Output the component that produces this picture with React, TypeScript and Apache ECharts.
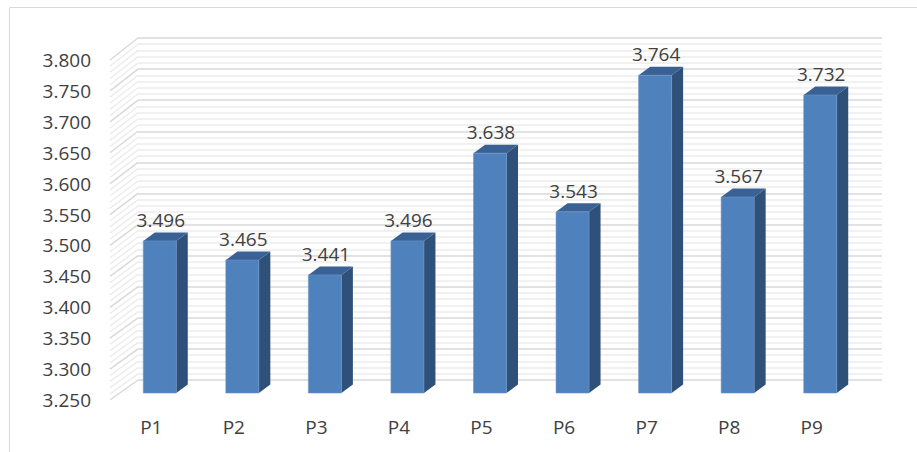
import React, { useEffect, useRef } from "react";
import * as echarts from "echarts";

const categories = ["P1", "P2", "P3", "P4", "P5", "P6", "P7", "P8", "P9"];
const values = [3.496, 3.465, 3.441, 3.496, 3.638, 3.543, 3.764, 3.567, 3.732];
const yMin = 3.25;
const yMax = 3.8;
const yStep = 0.05;
const minorSplit = 5;

const FONT = "'Open Sans', 'Liberation Sans', sans-serif";
const TEXT = "#404040";
const FS = 19;

export default function App() {
  const ref = useRef<HTMLDivElement>(null);
  useEffect(() => {
    if (!ref.current) return;
    const chart = echarts.init(ref.current, undefined, { renderer: "svg" });
    const option: any = {
      animation: false,
      backgroundColor: "#ffffff",
      graphic: [
        {
          type: "rect",
          shape: { x: 9.5, y: 7.5, width: 930, height: 470 },
          style: { fill: "none", stroke: "#D9D9D9", lineWidth: 1 },
          silent: true,
          z: 0,
        },
      ],
      grid: [
        { left: 138, top: 38, width: 744, height: 342 },
        { left: 110, top: 60, width: 743, height: 340 },
      ],
      xAxis: [
        {
          type: "category",
          gridIndex: 0,
          data: categories,
          show: false,
        },
        {
          type: "category",
          gridIndex: 1,
          data: categories,
          axisLine: { show: false },
          axisTick: { show: false },
          axisLabel: { color: TEXT, fontSize: FS, fontFamily: FONT, margin: 17 },
        },
      ],
      yAxis: [
        {
          type: "value",
          gridIndex: 0,
          min: yMin,
          max: yMax,
          interval: yStep,
          axisLine: { show: false },
          axisTick: { show: false },
          axisLabel: { show: false },
          splitLine: { show: true, lineStyle: { color: "#D9D9D9", width: 1.5 } },
          minorTick: { show: false, splitNumber: minorSplit },
          minorSplitLine: { show: true, lineStyle: { color: "#EDEDED", width: 1.5 } },
        },
        {
          type: "value",
          gridIndex: 1,
          min: yMin,
          max: yMax,
          interval: yStep,
          axisLine: { show: false },
          axisTick: { show: false },
          splitLine: { show: false },
          axisLabel: {
            color: TEXT,
            fontSize: FS,
            fontFamily: FONT,
            margin: 19,
            formatter: (v: number) => v.toFixed(3),
          },
        },
      ],
      series: [
        {
          type: "custom",
          xAxisIndex: 1,
          yAxisIndex: 1,
          silent: true,
          clip: false,
          z: 1,
          data: [[0]],
          renderItem: (params: any, api: any) => {
            const cs = params.coordSys;
            const children: any[] = [];
            const n = Math.round((yMax - yMin) / (yStep / minorSplit));
            for (let k = 0; k <= n; k++) {
              const v = yMin + (k * (yMax - yMin)) / n;
              const p = api.coord([0, v]);
              const yF = p[1];
              const yB = yF - 20 - ((v - yMin) / (yMax - yMin)) * 2;
              children.push({
                type: "line",
                shape: { x1: cs.x, y1: yF, x2: cs.x + 28, y2: yB },
                style: {
                  stroke: k % minorSplit === 0 ? "#D9D9D9" : "#EDEDED",
                  lineWidth: 1.5,
                },
              });
            }
            return { type: "group", children };
          },
        },
        {
          type: "custom",
          xAxisIndex: 1,
          yAxisIndex: 1,
          silent: true,
          clip: false,
          z: 5,
          data: values.map((v, i) => [i, v]),
          renderItem: (params: any, api: any) => {
            const i = api.value(0);
            const v = api.value(1);
            const top = api.coord([i, v]);
            const bot = api.coord([i, yMin]);
            const ox = 8.5,
              oy = -7,
              w = 33,
              dx = 11.5,
              dy = -8.5;
            const xl = top[0] + ox - w / 2;
            const xr = xl + w;
            const yt = top[1] + oy;
            const yb = bot[1] + oy;
            return {
              type: "group",
              children: [
                {
                  type: "polygon",
                  shape: {
                    points: [
                      [xr, yt],
                      [xr + dx, yt + dy],
                      [xr + dx, yb + dy],
                      [xr, yb],
                    ],
                  },
                  style: { fill: "#2F5079" },
                },
                {
                  type: "polygon",
                  shape: {
                    points: [
                      [xl, yt],
                      [xl + dx, yt + dy],
                      [xr + dx, yt + dy],
                      [xr, yt],
                    ],
                  },
                  style: { fill: "#3A6193" },
                },
                {
                  type: "rect",
                  shape: { x: xl, y: yt, width: w, height: yb - yt },
                  style: { fill: "#4F81BD", stroke: "#6A95CA", lineWidth: 0.6 },
                },
                {
                  type: "text",
                  style: {
                    text: v.toFixed(3),
                    x: xl + w / 2 + 1,
                    y: yt - 21,
                    align: "center",
                    verticalAlign: "middle",
                    fill: TEXT,
                    fontSize: FS,
                    fontFamily: FONT,
                  },
                },
              ],
            };
          },
        },
      ],
    };
    chart.setOption(option);
    return () => chart.dispose();
  }, []);
  return <div ref={ref} style={{ width: 917, height: 452, position: "absolute", left: 0, top: 0 }} />;
}
